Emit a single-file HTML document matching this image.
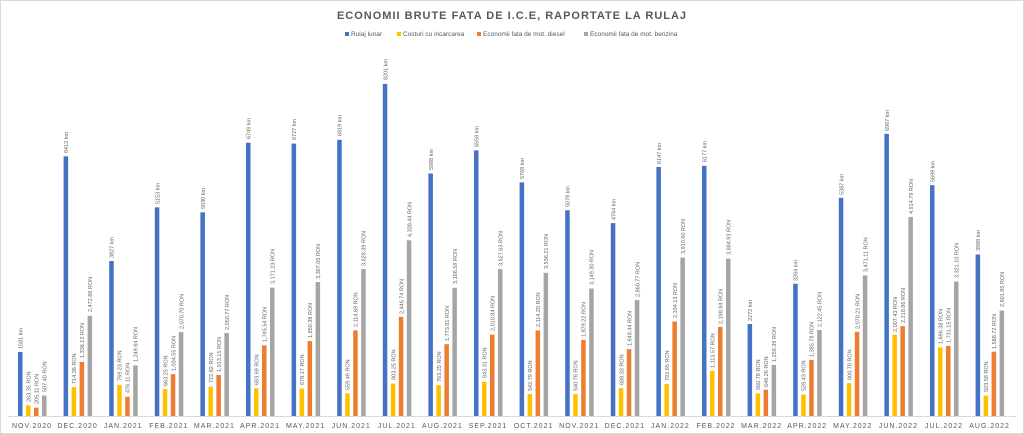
<!DOCTYPE html>
<html><head><meta charset="utf-8"><style>
html,body{margin:0;padding:0;background:#fff;}
svg{display:block;font-family:"Liberation Sans",sans-serif;}
.v{font-size:5.5px;fill:#666;}
.x{font-size:7px;fill:#595959;letter-spacing:1px;text-anchor:middle;}
.b{fill:#4472C4}.y{fill:#FFC000}.o{fill:#ED7D31}.g{fill:#A5A5A5}
</style></head><body>
<svg width="1024" height="434" viewBox="0 0 1024 434">
<rect x="0.5" y="0.5" width="1023" height="433" fill="#fff" stroke="#d9d9d9"/>
<text x="512" y="19" text-anchor="middle" font-size="11" font-weight="bold" fill="#595959" letter-spacing="1">ECONOMII BRUTE FATA DE I.C.E, RAPORTATE LA RULAJ</text>
<g font-size="6.5" fill="#595959">
<rect x="345" y="32" width="4" height="4" class="b"/><text x="351" y="36">Rulaj lunar</text>
<rect x="397" y="32" width="4" height="4" class="y"/><text x="403" y="36">Costuri cu incarcarea</text>
<rect x="477" y="32" width="4" height="4" class="o"/><text x="483" y="36">Economii fata de mot. diesel</text>
<rect x="584" y="32" width="4" height="4" class="g"/><text x="590" y="36">Economii fata de mot. benzina</text>
</g>
<line x1="8" y1="416.5" x2="1016" y2="416.5" stroke="#d9d9d9"/>

<g transform="translate(18,0)"><rect class="b" x="0" y="352" width="4.5" height="64"/><rect class="y" x="8" y="405.3" width="4.5" height="10.7"/><rect class="o" x="16" y="407.7" width="4.5" height="8.3"/><rect class="g" x="24" y="395.5" width="4.5" height="20.5"/>
<text class="v" transform="translate(4.5,349) rotate(-90)">1581 km</text><text class="v" transform="translate(12.5,402) rotate(-90)">263.35 RON</text><text class="v" transform="translate(20.5,404) rotate(-90)">205.11 RON</text><text class="v" transform="translate(28.5,392) rotate(-90)">507.40 RON</text><text class="x" x="14" y="428">NOV.2020</text></g>

<g transform="translate(63.6,0)"><rect class="b" x="0" y="156.3" width="4.5" height="259.7"/><rect class="y" x="8" y="387.1" width="4.5" height="28.9"/><rect class="o" x="16" y="361.9" width="4.5" height="54.1"/><rect class="g" x="24" y="315.8" width="4.5" height="100.2"/>
<text class="v" transform="translate(4.5,153) rotate(-90)">6412 km</text><text class="v" transform="translate(12.5,384) rotate(-90)">714.36 RON</text><text class="v" transform="translate(20.5,358) rotate(-90)">1,336.12 RON</text><text class="v" transform="translate(28.5,312) rotate(-90)">2,472.86 RON</text><text class="x" x="14" y="428">DEC.2020</text></g>

<g transform="translate(109.2,0)"><rect class="b" x="0" y="261" width="4.5" height="155"/><rect class="y" x="8" y="384.8" width="4.5" height="31.2"/><rect class="o" x="16" y="396.7" width="4.5" height="19.3"/><rect class="g" x="24" y="365.4" width="4.5" height="50.6"/>
<text class="v" transform="translate(4.5,258) rotate(-90)">3827 km</text><text class="v" transform="translate(12.5,381) rotate(-90)">769.23 RON</text><text class="v" transform="translate(20.5,393) rotate(-90)">476.11 RON</text><text class="v" transform="translate(28.5,362) rotate(-90)">1,249.64 RON</text><text class="x" x="14" y="428">JAN.2021</text></g>

<g transform="translate(154.8,0)"><rect class="b" x="0" y="207.3" width="4.5" height="208.7"/><rect class="y" x="8" y="389.1" width="4.5" height="26.9"/><rect class="o" x="16" y="374.1" width="4.5" height="41.9"/><rect class="g" x="24" y="332.1" width="4.5" height="83.9"/>
<text class="v" transform="translate(4.5,204) rotate(-90)">5153 km</text><text class="v" transform="translate(12.5,386) rotate(-90)">663.25 RON</text><text class="v" transform="translate(20.5,371) rotate(-90)">1,034.55 RON</text><text class="v" transform="translate(28.5,329) rotate(-90)">2,070.70 RON</text><text class="x" x="14" y="428">FEB.2021</text></g>

<g transform="translate(200.4,0)"><rect class="b" x="0" y="212.3" width="4.5" height="203.7"/><rect class="y" x="8" y="386.7" width="4.5" height="29.3"/><rect class="o" x="16" y="375" width="4.5" height="41"/><rect class="g" x="24" y="332.9" width="4.5" height="83.1"/>
<text class="v" transform="translate(4.5,209) rotate(-90)">5030 km</text><text class="v" transform="translate(12.5,383) rotate(-90)">722.82 RON</text><text class="v" transform="translate(20.5,372) rotate(-90)">1,013.15 RON</text><text class="v" transform="translate(28.5,330) rotate(-90)">2,050.77 RON</text><text class="x" x="14" y="428">MAR.2021</text></g>

<g transform="translate(246,0)"><rect class="b" x="0" y="142.7" width="4.5" height="273.3"/><rect class="y" x="8" y="388.3" width="4.5" height="27.7"/><rect class="o" x="16" y="345.3" width="4.5" height="70.7"/><rect class="g" x="24" y="287.6" width="4.5" height="128.4"/>
<text class="v" transform="translate(4.5,139) rotate(-90)">6749 km</text><text class="v" transform="translate(12.5,385) rotate(-90)">683.69 RON</text><text class="v" transform="translate(20.5,342) rotate(-90)">1,745.54 RON</text><text class="v" transform="translate(28.5,284) rotate(-90)">3,171.23 RON</text><text class="x" x="14" y="428">APR.2021</text></g>

<g transform="translate(291.6,0)"><rect class="b" x="0" y="143.6" width="4.5" height="272.4"/><rect class="y" x="8" y="388.5" width="4.5" height="27.5"/><rect class="o" x="16" y="341.1" width="4.5" height="74.9"/><rect class="g" x="24" y="282.1" width="4.5" height="133.9"/>
<text class="v" transform="translate(4.5,140) rotate(-90)">6727 km</text><text class="v" transform="translate(12.5,385) rotate(-90)">678.17 RON</text><text class="v" transform="translate(20.5,338) rotate(-90)">1,850.38 RON</text><text class="v" transform="translate(28.5,279) rotate(-90)">3,307.05 RON</text><text class="x" x="14" y="428">MAY.2021</text></g>

<g transform="translate(337.2,0)"><rect class="b" x="0" y="139.8" width="4.5" height="276.2"/><rect class="y" x="8" y="393.3" width="4.5" height="22.7"/><rect class="o" x="16" y="330.4" width="4.5" height="85.6"/><rect class="g" x="24" y="269" width="4.5" height="147"/>
<text class="v" transform="translate(4.5,136) rotate(-90)">6819 km</text><text class="v" transform="translate(12.5,390) rotate(-90)">559.49 RON</text><text class="v" transform="translate(20.5,327) rotate(-90)">2,114.69 RON</text><text class="v" transform="translate(28.5,266) rotate(-90)">3,628.39 RON</text><text class="x" x="14" y="428">JUN.2021</text></g>

<g transform="translate(382.8,0)"><rect class="b" x="0" y="83.9" width="4.5" height="332.1"/><rect class="y" x="8" y="383.5" width="4.5" height="32.5"/><rect class="o" x="16" y="316.9" width="4.5" height="99.1"/><rect class="g" x="24" y="240.3" width="4.5" height="175.7"/>
<text class="v" transform="translate(4.5,80) rotate(-90)">8201 km</text><text class="v" transform="translate(12.5,380) rotate(-90)">803.25 RON</text><text class="v" transform="translate(20.5,314) rotate(-90)">2,446.74 RON</text><text class="v" transform="translate(28.5,237) rotate(-90)">4,338.44 RON</text><text class="x" x="14" y="428">JUL.2021</text></g>

<g transform="translate(428.4,0)"><rect class="b" x="0" y="173.5" width="4.5" height="242.5"/><rect class="y" x="8" y="385.1" width="4.5" height="30.9"/><rect class="o" x="16" y="344.2" width="4.5" height="71.8"/><rect class="g" x="24" y="287.8" width="4.5" height="128.2"/>
<text class="v" transform="translate(4.5,170) rotate(-90)">5988 km</text><text class="v" transform="translate(12.5,382) rotate(-90)">763.25 RON</text><text class="v" transform="translate(20.5,341) rotate(-90)">1,773.81 RON</text><text class="v" transform="translate(28.5,284) rotate(-90)">3,166.59 RON</text><text class="x" x="14" y="428">AUG.2021</text></g>

<g transform="translate(474,0)"><rect class="b" x="0" y="150.4" width="4.5" height="265.6"/><rect class="y" x="8" y="381.8" width="4.5" height="34.2"/><rect class="o" x="16" y="334.6" width="4.5" height="81.4"/><rect class="g" x="24" y="269.1" width="4.5" height="146.9"/>
<text class="v" transform="translate(4.5,147) rotate(-90)">6558 km</text><text class="v" transform="translate(12.5,378) rotate(-90)">843.31 RON</text><text class="v" transform="translate(20.5,331) rotate(-90)">2,010.84 RON</text><text class="v" transform="translate(28.5,266) rotate(-90)">3,627.63 RON</text><text class="x" x="14" y="428">SEP.2021</text></g>

<g transform="translate(519.6,0)"><rect class="b" x="0" y="182.4" width="4.5" height="233.6"/><rect class="y" x="8" y="394" width="4.5" height="22"/><rect class="o" x="16" y="330.4" width="4.5" height="85.6"/><rect class="g" x="24" y="272.8" width="4.5" height="143.2"/>
<text class="v" transform="translate(4.5,179) rotate(-90)">5768 km</text><text class="v" transform="translate(12.5,391) rotate(-90)">542.79 RON</text><text class="v" transform="translate(20.5,327) rotate(-90)">2,114.20 RON</text><text class="v" transform="translate(28.5,269) rotate(-90)">3,536.21 RON</text><text class="x" x="14" y="428">OCT.2021</text></g>

<g transform="translate(565.2,0)"><rect class="b" x="0" y="210.3" width="4.5" height="205.7"/><rect class="y" x="8" y="394.1" width="4.5" height="21.9"/><rect class="o" x="16" y="339.9" width="4.5" height="76.1"/><rect class="g" x="24" y="288.5" width="4.5" height="127.5"/>
<text class="v" transform="translate(4.5,207) rotate(-90)">5078 km</text><text class="v" transform="translate(12.5,391) rotate(-90)">540.76 RON</text><text class="v" transform="translate(20.5,337) rotate(-90)">1,879.22 RON</text><text class="v" transform="translate(28.5,285) rotate(-90)">3,149.30 RON</text><text class="x" x="14" y="428">NOV.2021</text></g>

<g transform="translate(610.8,0)"><rect class="b" x="0" y="223.1" width="4.5" height="192.9"/><rect class="y" x="8" y="388.1" width="4.5" height="27.9"/><rect class="o" x="16" y="349.2" width="4.5" height="66.8"/><rect class="g" x="24" y="300.1" width="4.5" height="115.9"/>
<text class="v" transform="translate(4.5,220) rotate(-90)">4764 km</text><text class="v" transform="translate(12.5,385) rotate(-90)">688.33 RON</text><text class="v" transform="translate(20.5,346) rotate(-90)">1,648.44 RON</text><text class="v" transform="translate(28.5,297) rotate(-90)">2,860.77 RON</text><text class="x" x="14" y="428">DEC.2021</text></g>

<g transform="translate(656.4,0)"><rect class="b" x="0" y="167" width="4.5" height="249"/><rect class="y" x="8" y="383.9" width="4.5" height="32.1"/><rect class="o" x="16" y="321.5" width="4.5" height="94.5"/><rect class="g" x="24" y="257.6" width="4.5" height="158.4"/>
<text class="v" transform="translate(4.5,164) rotate(-90)">6147 km</text><text class="v" transform="translate(12.5,381) rotate(-90)">792.65 RON</text><text class="v" transform="translate(20.5,318) rotate(-90)">2,334.13 RON</text><text class="v" transform="translate(28.5,254) rotate(-90)">3,910.60 RON</text><text class="x" x="14" y="428">JAN.2022</text></g>

<g transform="translate(702,0)"><rect class="b" x="0" y="165.8" width="4.5" height="250.2"/><rect class="y" x="8" y="370.9" width="4.5" height="45.1"/><rect class="o" x="16" y="326.9" width="4.5" height="89.1"/><rect class="g" x="24" y="258.7" width="4.5" height="157.3"/>
<text class="v" transform="translate(4.5,162) rotate(-90)">6177 km</text><text class="v" transform="translate(12.5,368) rotate(-90)">1,113.57 RON</text><text class="v" transform="translate(20.5,324) rotate(-90)">2,198.84 RON</text><text class="v" transform="translate(28.5,255) rotate(-90)">3,884.93 RON</text><text class="x" x="14" y="428">FEB.2022</text></g>

<g transform="translate(747.6,0)"><rect class="b" x="0" y="324" width="4.5" height="92"/><rect class="y" x="8" y="393.3" width="4.5" height="22.7"/><rect class="o" x="16" y="389.7" width="4.5" height="26.3"/><rect class="g" x="24" y="365" width="4.5" height="51"/>
<text class="v" transform="translate(4.5,321) rotate(-90)">2272 km</text><text class="v" transform="translate(12.5,390) rotate(-90)">560.78 RON</text><text class="v" transform="translate(20.5,387) rotate(-90)">648.26 RON</text><text class="v" transform="translate(28.5,362) rotate(-90)">1,259.39 RON</text><text class="x" x="14" y="428">MAR.2022</text></g>

<g transform="translate(793.2,0)"><rect class="b" x="0" y="283.8" width="4.5" height="132.2"/><rect class="y" x="8" y="394.6" width="4.5" height="21.4"/><rect class="o" x="16" y="359.9" width="4.5" height="56.1"/><rect class="g" x="24" y="330" width="4.5" height="86"/>
<text class="v" transform="translate(4.5,281) rotate(-90)">3264 km</text><text class="v" transform="translate(12.5,391) rotate(-90)">528.43 RON</text><text class="v" transform="translate(20.5,357) rotate(-90)">1,385.78 RON</text><text class="v" transform="translate(28.5,327) rotate(-90)">2,122.45 RON</text><text class="x" x="14" y="428">APR.2022</text></g>

<g transform="translate(838.8,0)"><rect class="b" x="0" y="197.8" width="4.5" height="218.2"/><rect class="y" x="8" y="383.2" width="4.5" height="32.8"/><rect class="o" x="16" y="331.8" width="4.5" height="84.2"/><rect class="g" x="24" y="275.4" width="4.5" height="140.6"/>
<text class="v" transform="translate(4.5,195) rotate(-90)">5387 km</text><text class="v" transform="translate(12.5,380) rotate(-90)">808.78 RON</text><text class="v" transform="translate(20.5,329) rotate(-90)">2,078.21 RON</text><text class="v" transform="translate(28.5,272) rotate(-90)">3,471.11 RON</text><text class="x" x="14" y="428">MAY.2022</text></g>

<g transform="translate(884.4,0)"><rect class="b" x="0" y="133.8" width="4.5" height="282.2"/><rect class="y" x="8" y="334.7" width="4.5" height="81.3"/><rect class="o" x="16" y="326.1" width="4.5" height="89.9"/><rect class="g" x="24" y="216.9" width="4.5" height="199.1"/>
<text class="v" transform="translate(4.5,131) rotate(-90)">6967 km</text><text class="v" transform="translate(12.5,332) rotate(-90)">2,007.43 RON</text><text class="v" transform="translate(20.5,323) rotate(-90)">2,218.86 RON</text><text class="v" transform="translate(28.5,214) rotate(-90)">4,914.79 RON</text><text class="x" x="14" y="428">JUN.2022</text></g>

<g transform="translate(930,0)"><rect class="b" x="0" y="185.2" width="4.5" height="230.8"/><rect class="y" x="8" y="347.3" width="4.5" height="68.7"/><rect class="o" x="16" y="345.9" width="4.5" height="70.1"/><rect class="g" x="24" y="281.5" width="4.5" height="134.5"/>
<text class="v" transform="translate(4.5,182) rotate(-90)">5699 km</text><text class="v" transform="translate(12.5,344) rotate(-90)">1,696.38 RON</text><text class="v" transform="translate(20.5,343) rotate(-90)">1,731.15 RON</text><text class="v" transform="translate(28.5,278) rotate(-90)">3,321.10 RON</text><text class="x" x="14" y="428">JUL.2022</text></g>

<g transform="translate(975.6,0)"><rect class="b" x="0" y="254.5" width="4.5" height="161.5"/><rect class="y" x="8" y="395.6" width="4.5" height="20.4"/><rect class="o" x="16" y="351.7" width="4.5" height="64.3"/><rect class="g" x="24" y="310.6" width="4.5" height="105.4"/>
<text class="v" transform="translate(4.5,251) rotate(-90)">3988 km</text><text class="v" transform="translate(12.5,392) rotate(-90)">503.58 RON</text><text class="v" transform="translate(20.5,349) rotate(-90)">1,588.72 RON</text><text class="v" transform="translate(28.5,307) rotate(-90)">2,601.85 RON</text><text class="x" x="14" y="428">AUG.2022</text></g>
</svg>
</body></html>
